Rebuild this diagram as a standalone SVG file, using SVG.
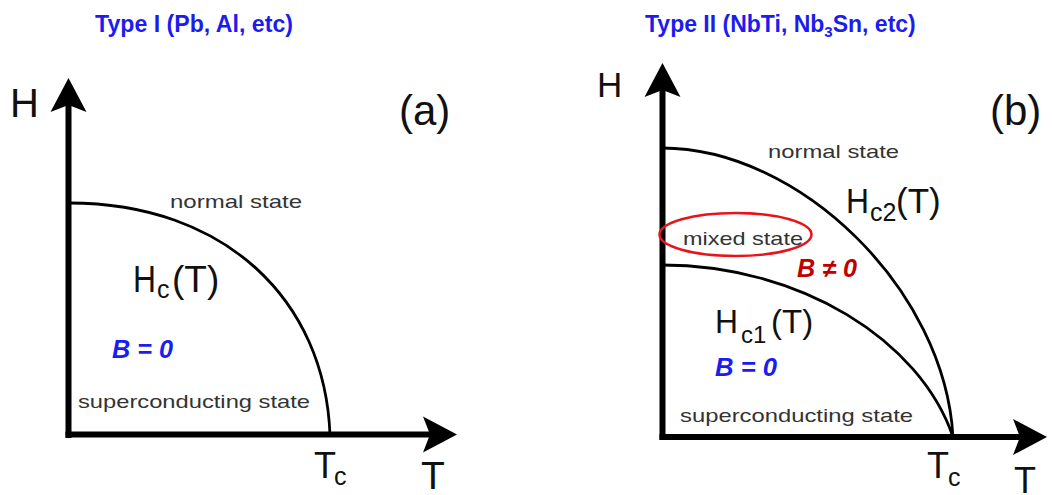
<svg xmlns="http://www.w3.org/2000/svg" width="1052" height="495" viewBox="0 0 1052 495">
<style>
.title{font-family:"Liberation Sans",Arial,sans-serif;font-weight:bold;font-size:23px;fill:#1c1cf0}
.lbl{font-family:"Liberation Sans",Arial,sans-serif;fill:#111}
.st{font-family:"Liberation Sans",Arial,sans-serif;font-size:19px;fill:#333}
.bz{font-family:"Liberation Sans",Arial,sans-serif;font-size:25px;font-weight:bold;font-style:italic}
.axis{fill:none;stroke:#000;stroke-width:6}
.curve{fill:none;stroke:#000;stroke-width:2.8}
</style>
<defs>
<marker id="ah" markerUnits="userSpaceOnUse" viewBox="-10 -20 40 40" markerWidth="40" markerHeight="40" refX="0" refY="0" orient="auto">
<path d="M27,0 L-7,-18 L0,0 L-7,18 Z" fill="#000"/>
</marker>
</defs>
<rect width="1052" height="495" fill="#fff"/>

<g id="panel-a">
<text class="title" x="95" y="32" textLength="198" lengthAdjust="spacingAndGlyphs">Type I (Pb, Al, etc)</text>
<g id="axes-a">
<path class="axis" d="M68.5,438 L68.5,105" marker-end="url(#ah)"/>
<path class="axis" d="M65.5,434.5 L430,434.5" marker-end="url(#ah)"/>
</g>
<g id="curve-a">
<path class="curve" d="M69,203 C225,203 325,300 330,435"/>
</g>
<text class="lbl" x="10" y="117" font-size="40">H</text>
<text class="lbl" x="399" y="125" font-size="42">(a)</text>
<text class="st" x="170" y="208" textLength="132" lengthAdjust="spacingAndGlyphs">normal state</text>
<text class="lbl" x="133" y="292" font-size="37" textLength="23" lengthAdjust="spacingAndGlyphs">H</text>
<text class="lbl" x="157" y="298" font-size="25">c</text>
<text class="lbl" x="172" y="292" font-size="37">(T)</text>
<text class="bz" x="112" y="358" fill="#1c1cf0" textLength="61" lengthAdjust="spacingAndGlyphs">B = 0</text>
<text class="st" x="78" y="408" font-size="20" textLength="232" lengthAdjust="spacingAndGlyphs">superconducting state</text>
<text class="lbl" font-size="36"><tspan x="314" y="478">T</tspan><tspan x="334" y="485" font-size="25">c</tspan></text>
<text class="lbl" x="421" y="489" font-size="39">T</text>
</g>

<g id="panel-b">
<text class="title" y="32"><tspan x="645">Type II (NbTi, Nb</tspan><tspan font-size="15" dy="5">3</tspan><tspan dy="-5">Sn, etc)</tspan></text>
<g id="axes-b">
<path class="axis" d="M662.5,440 L662.5,90" marker-end="url(#ah)"/>
<path class="axis" d="M659.5,437 L1020,437" marker-end="url(#ah)"/>
</g>
<g id="curves-b">
<path class="curve" d="M662,148 C800,148 945,290 953,437"/>
<path class="curve" d="M662,265 C800,265 920,340 953,437"/>
</g>
<ellipse id="mixed-ring" cx="735.5" cy="234.5" rx="76" ry="21.5" fill="none" stroke="#e8141b" stroke-width="2.5"/>
<text class="lbl" x="597" y="97" font-size="35">H</text>
<text class="lbl" x="990" y="125" font-size="42">(b)</text>
<text class="st" x="768" y="158" textLength="131" lengthAdjust="spacingAndGlyphs">normal state</text>
<text class="lbl" x="846" y="213" font-size="35" textLength="23" lengthAdjust="spacingAndGlyphs">H</text>
<text class="lbl" x="870" y="221" font-size="25">c2</text>
<text class="lbl" x="896" y="213" font-size="35">(T)</text>
<text class="st" x="683" y="245" font-size="20" textLength="120" lengthAdjust="spacingAndGlyphs">mixed state</text>
<text class="bz" x="797" y="277" fill="#c00000" textLength="60" lengthAdjust="spacingAndGlyphs">B ≠ 0</text>
<text class="lbl" x="715" y="333" font-size="33" textLength="23" lengthAdjust="spacingAndGlyphs">H</text>
<text class="lbl" x="741" y="343" font-size="24">c1</text>
<text class="lbl" x="771" y="333" font-size="33">(T)</text>
<text class="bz" x="715" y="376" fill="#1c1cf0" textLength="62" lengthAdjust="spacingAndGlyphs">B = 0</text>
<text class="st" x="680" y="422" font-size="20" textLength="233" lengthAdjust="spacingAndGlyphs">superconducting state</text>
<text class="lbl" font-size="36"><tspan x="927" y="478">T</tspan><tspan x="948" y="486" font-size="25">c</tspan></text>
<text class="lbl" x="1014" y="493" font-size="36">T</text>
</g>
</svg>
